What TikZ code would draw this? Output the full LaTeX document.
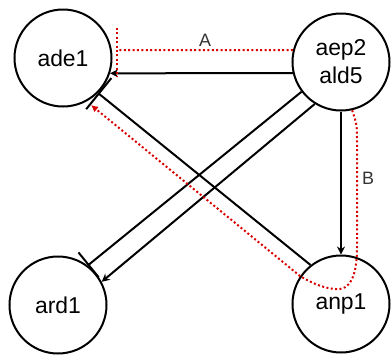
\documentclass[tikz,border=0pt]{standalone}
\usepackage{fontspec}
\setmainfont{Liberation Sans}
\usetikzlibrary{arrows.meta}

\begin{document}
\begin{tikzpicture}[x=1bp, y=-1bp,
  gene/.style={circle, draw, line width=2bp, minimum size=97bp, inner sep=0pt,
    align=center, font=\fontsize{23}{28}\selectfont},
  act/.style={line width=2bp, -{Stealth[length=8bp,width=8bp]}},
  inh/.style={line width=2bp, -{Bar[width=#1]}},
  rdot/.style={red!85!black, line width=2bp, dash pattern=on 2bp off 2.4bp},
  lbl/.style={font=\fontsize{18}{18}\selectfont, text=black!80}]
  \useasboundingbox (0,0) rectangle (392,356);
  % genes
  \node[gene] (ade1) at (63,58) {ade1};
  \node[gene] (aep2) at (341,62) {aep2\\ald5};
  \node[gene] (ard1) at (58,305) {ard1};
  \node[gene] (anp1) at (341,304) {anp1};
  % black edges
  \draw[act] (aep2.193) -- (ade1.342);
  \draw[act] (aep2.south) -- (anp1.north);
  \draw[inh=32bp] (aep2.217) -- (ard1.53);
  \draw[act] (aep2.238) -- (ard1.28);
  \draw[inh=40bp] (anp1.128) -- (ade1.315);
  % red dotted edges
  \coordinate (aend) at (117,50);
  \coordinate (bend) at (91,105);
  \draw[rdot] (aep2.166) -- (aend);
  \draw[rdot] ([yshift=22bp]aend) -- ([yshift=-27bp]aend);
  \draw[rdot, -{Latex[length=7bp,width=7bp]}] (aep2.283) .. controls (357,125) .. (357,142)
    -- (357,248) .. controls (357,276) and (350,291) .. (335,289)
    .. controls (322,288) and (310,282) .. (300,276) -- (bend);
  \node[lbl] (la) at (205,40) {A};
  \node[lbl] (lb) at (368,178) {B};
\end{tikzpicture}
\end{document}
